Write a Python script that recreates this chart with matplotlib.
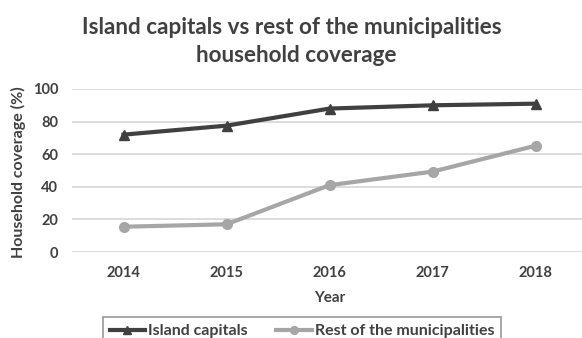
import numpy as np
import matplotlib
matplotlib.use('Agg')
import matplotlib.pyplot as plt

# data
years = ['2014', '2015', '2016', '2017', '2018']
island_capitals = [72, 77.5, 88, 90, 91]
rest_municipalities = [15.5, 17, 41, 49.3, 65.2]
yticks = [0, 20, 40, 60, 80, 100]

plt.rcParams['font.family'] = ['Lato', 'DejaVu Sans']

fig = plt.figure(figsize=(5.82, 3.38), dpi=100)
ax = fig.add_axes([72/582, 86/338, 515/582, 163/338])

x = np.arange(len(years))
ax.plot(x, island_capitals, color='#404040', linewidth=3, marker='^', markersize=7,
        label='Island capitals')
ax.plot(x, rest_municipalities, color='#a6a6a6', linewidth=3, marker='o', markersize=7,
        label='Rest of the municipalities')

ax.set_xlim(-0.5, 4.5)
ax.set_ylim(0, 100)
ax.set_xticks(x)
ax.set_xticklabels(years)
ax.set_yticks(yticks)
ax.yaxis.grid(True, color='#d9d9d9', linewidth=1.3)
ax.set_axisbelow(True)
for s in ax.spines.values():
    s.set_visible(False)
ax.tick_params(length=0, labelsize=10.5, labelcolor='#404040', pad=10)
for lab in ax.get_xticklabels() + ax.get_yticklabels():
    lab.set_fontweight('bold')

ax.set_xlabel('Year', fontsize=11, fontweight='bold', color='#404040', labelpad=8)
fig.text(18/582, 1 - 172/338, 'Household coverage (%)', rotation=90, ha='center', va='center',
         fontsize=11.5, fontweight='bold', color='#404040')

fig.text(292/582, 1 - 28/338, 'Island capitals vs rest of the municipalities',
         ha='center', va='center', fontsize=16.2, fontweight='bold', color='#404040')
fig.text(296/582, 1 - 55/338, 'household coverage',
         ha='center', va='center', fontsize=16.2, fontweight='bold', color='#404040')

leg = fig.legend(loc='upper center', bbox_to_anchor=(302/582, 1 - 317/338), ncol=2,
                 frameon=True, fancybox=False, fontsize=11.5, handlelength=2.2,
                 handletextpad=0.2, columnspacing=1.8, borderpad=0.45, borderaxespad=0,
                 markerscale=0.8)
leg.get_frame().set_edgecolor('#7f7f7f')
leg.get_frame().set_linewidth(1.2)
for t in leg.get_texts():
    t.set_fontweight('bold')
    t.set_color('#404040')

plt.savefig('out.png', dpi=100)
